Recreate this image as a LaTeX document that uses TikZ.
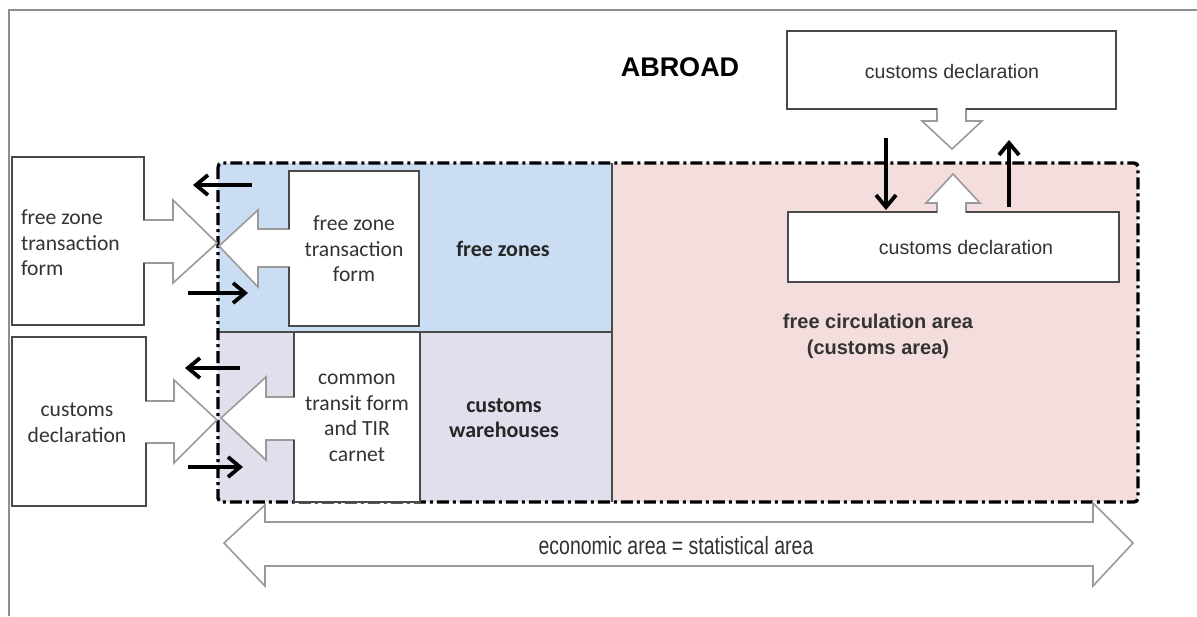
\documentclass[tikz,border=0pt]{standalone}
\usepackage{fontspec}
\setmainfont{Liberation Sans}
\newfontfamily\calibfont{Carlito}
\usetikzlibrary{arrows.meta}
\definecolor{zoneblue}{HTML}{CBDDF2}
\definecolor{storelav}{HTML}{E2DEEC}
\definecolor{circpink}{HTML}{F4DDDD}
\definecolor{boxgray}{HTML}{4A4A4A}
\definecolor{arrowgray}{HTML}{9A9A9A}
\definecolor{framegray}{HTML}{8E8E8E}
\definecolor{textgray}{HTML}{333333}
\tikzset{
  boxline/.style={draw=boxgray, line width=0.8pt},
  hollow/.style={draw=arrowgray, fill=white, line width=0.8pt, line join=miter},
  areaborder/.style={line width=1.7pt, dash pattern=on 6pt off 2pt on 1.5pt off 2pt, rounded corners=2pt},
  divline/.style={draw=boxgray, line width=0.6pt},
  flow/.style={line width=1.9pt, -{Straight Barb[length=6pt,width=10pt]}},
  arialtext/.style={font=\fontsize{9.8}{12}\selectfont, text=textgray},
  calibtext/.style={font=\calibfont\fontsize{10.8}{12.8}\selectfont, align=center, text=textgray},
  calibbold/.style={font=\calibfont\bfseries\fontsize{11}{12.4}\selectfont, align=center, text=black!85},
}
\begin{document}
\begin{tikzpicture}[x=0.5pt,y=-0.5pt]
  \useasboundingbox (0,0) rectangle (1197,616);
  \draw[framegray, line width=1pt] (9,616) -- (9,10) -- (1197,10);

  \fill[zoneblue] (218,163) rectangle (612,332);
  \fill[storelav] (218,332) rectangle (612,502);
  \fill[circpink] (612,163) rectangle (1138,502);
  \draw[divline] (612,163) -- (612,502);
  \draw[divline] (218,332) -- (612,332);
  \draw[areaborder] (218,163) rectangle (1138,502);

  \draw[hollow] (289,171) -- (419,171) -- (419,326) -- (289,326) -- (289,267) -- (258,267)
    -- (258,287) -- (219,246) -- (258,210) -- (258,229) -- (289,229) -- cycle;
  \draw[boxline] (289,229) -- (289,171) -- (419,171) -- (419,326) -- (289,326) -- (289,267);
  \draw[hollow] (294,332) -- (420,332) -- (420,502) -- (294,502) -- (294,440) -- (266,440)
    -- (266,460) -- (221,418) -- (266,377) -- (266,397) -- (294,397) -- cycle;
  \draw[boxline] (294,397) -- (294,332) -- (420,332) -- (420,502) -- (294,502) -- (294,440);

  \draw[hollow] (12,157) -- (144,157) -- (144,220) -- (173,220) -- (173,200) -- (217,243)
    -- (173,283) -- (173,263) -- (144,263) -- (144,325) -- (12,325) -- cycle;
  \draw[boxline] (144,220) -- (144,157) -- (12,157) -- (12,325) -- (144,325) -- (144,263);
  \draw[hollow] (12,337) -- (146,337) -- (146,401) -- (174,401) -- (174,380) -- (217,420)
    -- (174,463) -- (174,443) -- (146,443) -- (146,506) -- (12,506) -- cycle;
  \draw[boxline] (146,401) -- (146,337) -- (12,337) -- (12,506) -- (146,506) -- (146,443);

  \draw[hollow] (787,31) -- (1116,31) -- (1116,109) -- (966,109) -- (966,121) -- (982,121)
    -- (952,149) -- (922,121) -- (937,121) -- (937,109) -- (787,109) -- cycle;
  \draw[boxline] (937,109) -- (787,109) -- (787,31) -- (1116,31) -- (1116,109) -- (966,109);
  \draw[hollow] (788,212) -- (937,212) -- (937,203) -- (926,203) -- (953,174) -- (980,203)
    -- (966,203) -- (966,212) -- (1119,212) -- (1119,282) -- (788,282) -- cycle;
  \draw[boxline] (937,212) -- (788,212) -- (788,282) -- (1119,282) -- (1119,212) -- (966,212);

  \draw[hollow] (224,543) -- (265,505) -- (265,522) -- (1093,522) -- (1093,503) -- (1133,543)
    -- (1093,586) -- (1093,566) -- (265,566) -- (265,586) -- cycle;

  \coordinate (fzoutS) at (252,185);
  \coordinate (fzoutE) at (193,185);
  \coordinate (fzinS) at (188,293);
  \coordinate (fzinE) at (248,293);
  \coordinate (cwoutS) at (240,368);
  \coordinate (cwoutE) at (185,368);
  \coordinate (cwinS) at (188,467);
  \coordinate (cwinE) at (243,467);
  \coordinate (impS) at (886,138);
  \coordinate (impE) at (886,210);
  \coordinate (expS) at (1009,207);
  \coordinate (expE) at (1009,140);
  \draw[flow] (fzoutS) -- (fzoutE);
  \draw[flow] (fzinS) -- (fzinE);
  \draw[flow] (cwoutS) -- (cwoutE);
  \draw[flow] (cwinS) -- (cwinE);
  \draw[flow] (impS) -- (impE);
  \draw[flow] (expS) -- (expE);

  \node (abroad) at (680,67) {\fontsize{13.5}{16}\selectfont\bfseries ABROAD};
  \node[arialtext] (cdtop) at (952,71) {customs declaration};
  \node[arialtext] (cdin) at (966,247) {customs declaration};
  \node[calibtext, align=left, anchor=west] (fzformout) at (14,243) {free zone\\transaction\\form};
  \node[calibtext] (cdout) at (77,423) {customs\\declaration};
  \node[calibtext] (fzformin) at (354,249) {free zone\\transaction\\form};
  \node[calibtext] (ctform) at (357,418) {common\\transit form\\and TIR\\carnet};
  \node[calibbold] (freezones) at (503,249) {free zones};
  \node[calibbold] (warehouses) at (504,418) {customs\\warehouses};
  \node[font=\bfseries\fontsize{10}{13}\selectfont, align=center, text=black!80] (freecirc) at (878,336)
    {free circulation area\\(customs area)};
  \node[text=textgray] (econ) at (676,546)
    {\scalebox{0.78}[1]{\fontsize{12.5}{14}\selectfont economic area = statistical area}};
\end{tikzpicture}
\end{document}
